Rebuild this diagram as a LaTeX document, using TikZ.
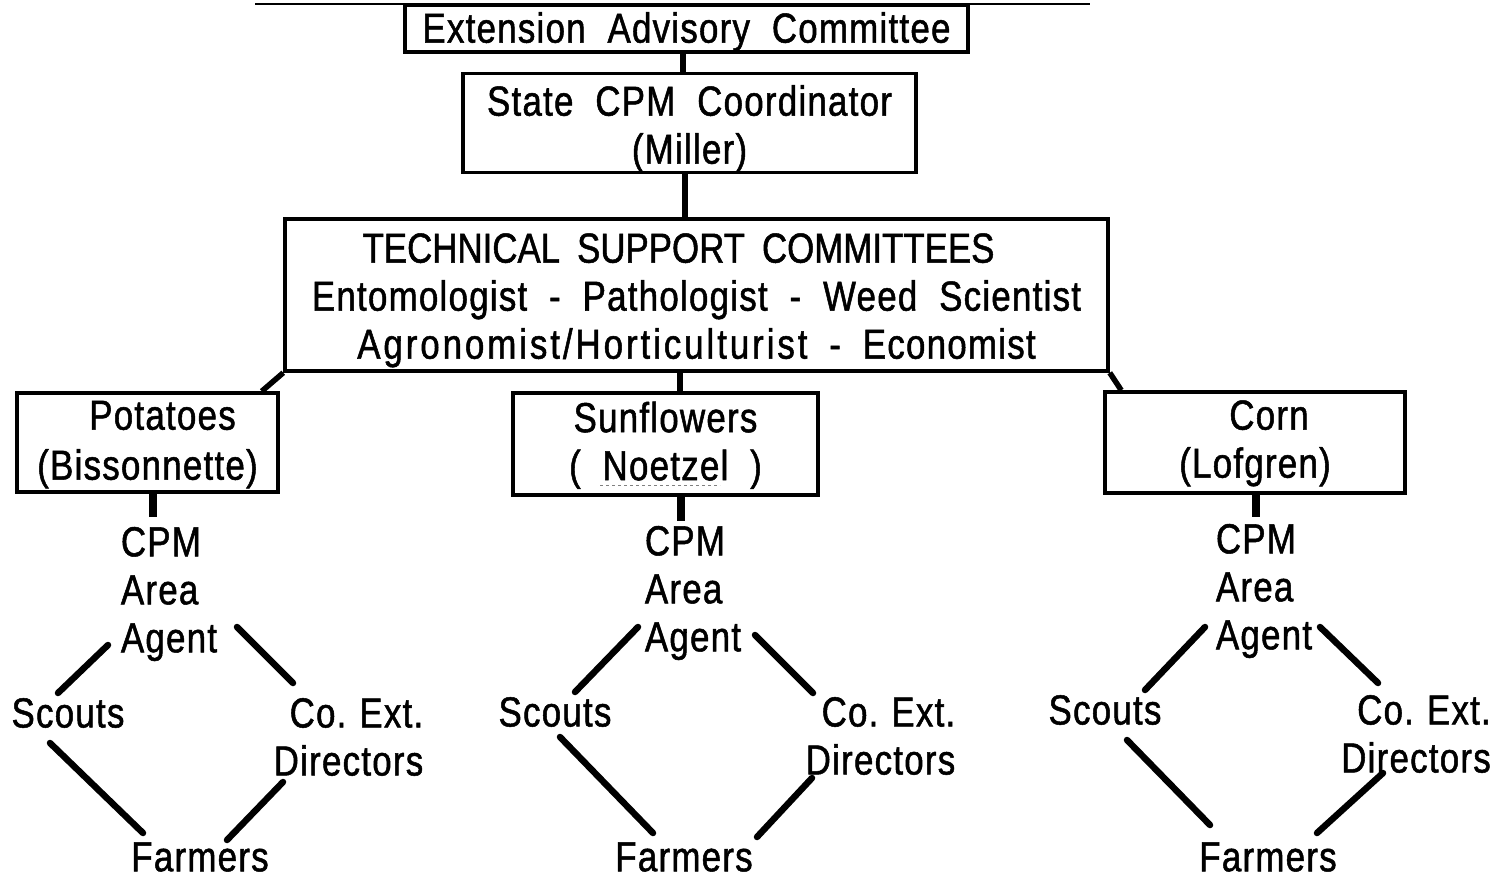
\documentclass[tikz,border=0pt]{standalone}
\usepackage{fontspec}
\setmainfont{Liberation Sans}[FakeStretch=0.83,LetterSpace=3,WordSpace=2,FakeBold=1.2]
\newcommand{\lift}[1]{\rule{0pt}{#1pt}}
\newcommand{\lblfont}{\fontsize{42}{48}\selectfont\frenchspacing\spaceskip=13pt\relax}
\frenchspacing
\begin{document}
\begin{tikzpicture}[x=1pt,y=-1pt,
  box/.style={draw, line width=3.5pt, inner sep=0pt, align=center,
    font=\fontsize{42}{48}\selectfont\frenchspacing},
  lbl/.style={inner sep=0pt, font=\lblfont},
  link/.style={line width=5.5pt},
  stub/.style={line width=8pt},
  diag/.style={line width=6.5pt, line cap=round}]
\useasboundingbox[fill=white] (0,0) rectangle (1505,879);
% top rule
\coordinate (tl) at (255,4);
\coordinate (tr) at (1090,4);
\draw[line width=2pt] (tl) -- (tr);
% boxes
\node[box, minimum width=563pt, minimum height=47pt] (eac) at (686.5,28.5) {\lift{37}Extension Advisory Committee};
\node[box, minimum width=453pt, minimum height=96pt] (scc) at (689.5,123) {\lift{42}State CPM Coordinator\\(Miller)};
\node[box, minimum width=823pt, minimum height=152pt] (tsc) at (696.5,295) {\lift{40}{\addfontfeature{LetterSpace=0}\spaceskip=17pt\relax TECHNICAL SUPPORT COMMITTEES}\hspace*{36pt}\\Entomologist - Pathologist - Weed Scientist\\{\addfontfeature{LetterSpace=7}Agronomist/Horticulturist} - Economist};
\node[box, minimum width=261pt, minimum height=99pt] (pot) at (147.5,442.5) {\lift{33}\hspace*{30pt}Potatoes\\[2pt](Bissonnette)};
\node[box, minimum width=305pt, minimum height=102pt] (sun) at (665.5,444) {\lift{33}Sunflowers\\( Noetzel )};
\node[box, minimum width=300pt, minimum height=101pt] (corn) at (1255,442.5) {\lift{31}\hspace*{28pt}Corn\\(Lofgren)};
% connectors between boxes
\draw[link] ([xshift=-3.5pt]eac.south) -- ([xshift=-6.5pt]scc.north);
\draw[link] ([xshift=-4.5pt]scc.south) -- ([xshift=-11.5pt]tsc.north);
\draw[link] (tsc.south west) -- ([xshift=-18pt]pot.north east);
\draw[link] ([xshift=-16.5pt]tsc.south) -- ([xshift=14.5pt]sun.north);
\draw[link] (tsc.south east) -- ([xshift=18pt]corn.north west);
% faint underline
\draw[line width=1pt, gray, dashed] (600,485) -- (720,485);
% agents
\node[lbl, align=left] (agL) at (169,594) {CPM\\Area\\Agent};
\node[lbl, align=left] (agM) at (693,593) {CPM\\Area\\Agent};
\node[lbl, align=left] (agR) at (1264,591) {CPM\\Area\\Agent};
\draw[stub] ([xshift=5pt]pot.south) -- ([xshift=5pt,yshift=-23pt]pot.south);
\draw[stub] ([xshift=15.5pt]sun.south) -- ([xshift=15.5pt,yshift=-24pt]sun.south);
\draw[stub] ([xshift=1pt]corn.south) -- ([xshift=1pt,yshift=-22pt]corn.south);
% lower labels
\node[lbl] (scL) at (68,713) {Scouts};
\node[lbl, align=right] (coL) at (348.5,737) {Co. Ext.\\Directors};
\node[lbl] (faL) at (200,857) {Farmers};
\node[lbl] (scM) at (555,712) {Scouts};
\node[lbl, align=right] (coM) at (880.5,736) {Co. Ext.\\Directors};
\node[lbl] (faM) at (684,857) {Farmers};
\node[lbl] (scR) at (1105,710) {Scouts};
\node[lbl, align=right] (coR) at (1416,734) {Co. Ext.\\Directors};
\node[lbl] (faR) at (1268,857) {Farmers};
% diagonal connector end points
\coordinate (l1) at (108,645); \coordinate (l2) at (58,693);
\coordinate (l3) at (237,627); \coordinate (l4) at (293,683);
\coordinate (l5) at (50,743);  \coordinate (l6) at (143,833);
\coordinate (l7) at (283,782); \coordinate (l8) at (227,840);
\coordinate (m1) at (638,627); \coordinate (m2) at (575,692);
\coordinate (m3) at (755,635); \coordinate (m4) at (813,693);
\coordinate (m5) at (560,737); \coordinate (m6) at (653,833);
\coordinate (m7) at (812,778); \coordinate (m8) at (757,837);
\coordinate (r1) at (1205,627); \coordinate (r2) at (1145,690);
\coordinate (r3) at (1320,627); \coordinate (r4) at (1378,683);
\coordinate (r5) at (1127,740); \coordinate (r6) at (1210,825);
\coordinate (r7) at (1383,773); \coordinate (r8) at (1317,833);
\draw[diag] (l1) -- (l2); \draw[diag] (l3) -- (l4);
\draw[diag] (l5) -- (l6); \draw[diag] (l7) -- (l8);
\draw[diag] (m1) -- (m2); \draw[diag] (m3) -- (m4);
\draw[diag] (m5) -- (m6); \draw[diag] (m7) -- (m8);
\draw[diag] (r1) -- (r2); \draw[diag] (r3) -- (r4);
\draw[diag] (r5) -- (r6); \draw[diag] (r7) -- (r8);
\end{tikzpicture}
\end{document}
